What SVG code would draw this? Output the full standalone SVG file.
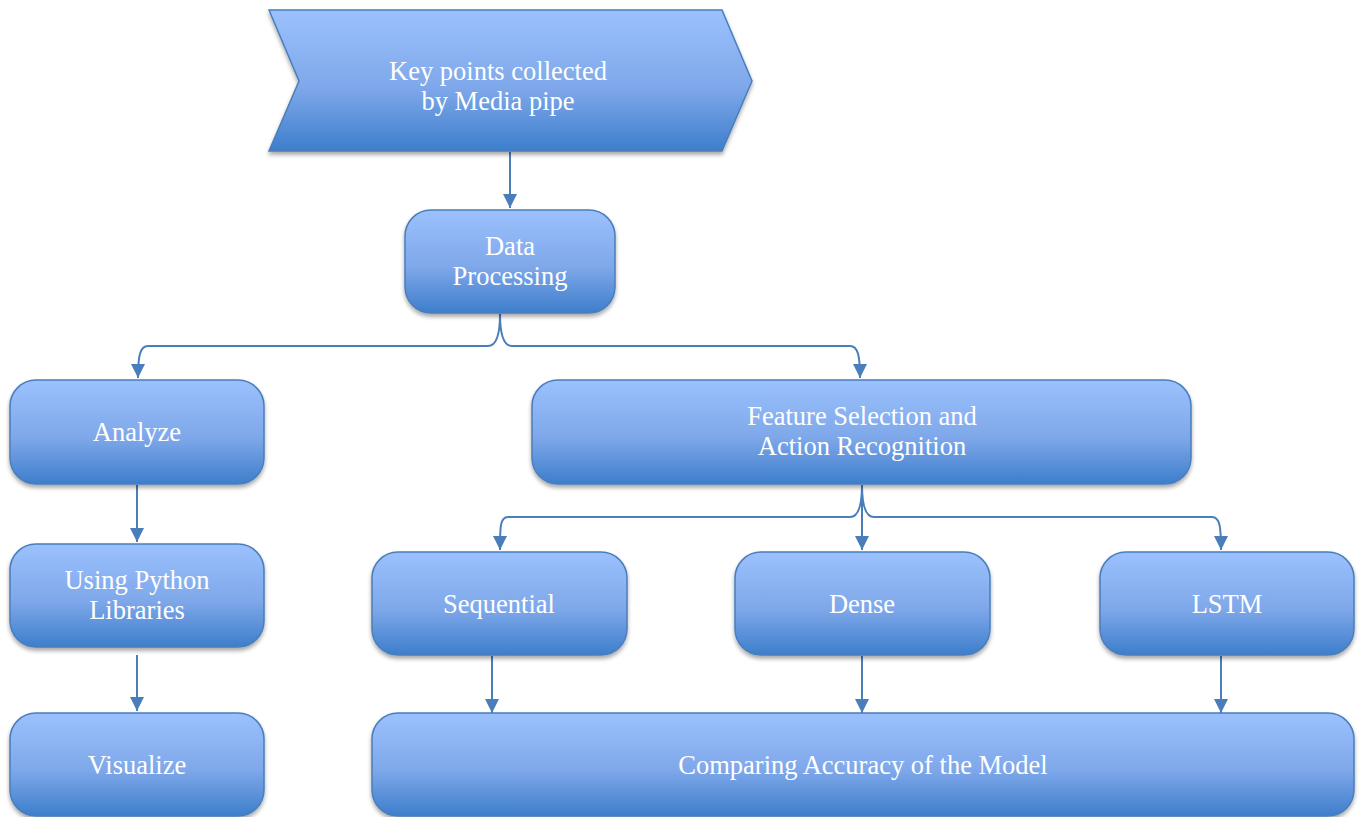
<svg xmlns="http://www.w3.org/2000/svg" width="1359" height="817" viewBox="0 0 1359 817">
<defs>
<linearGradient id="g" x1="0" y1="0" x2="0" y2="1">
<stop offset="0" stop-color="#9BC1FD"/>
<stop offset="0.55" stop-color="#7FA8EA"/>
<stop offset="1" stop-color="#3D7ECB"/>
</linearGradient>
<filter id="sh" x="-10%" y="-10%" width="120%" height="130%">
<feGaussianBlur in="SourceAlpha" stdDeviation="2"/>
<feOffset dx="0" dy="3" result="b"/>
<feComponentTransfer><feFuncA type="linear" slope="0.35"/></feComponentTransfer>
<feMerge><feMergeNode/><feMergeNode in="SourceGraphic"/></feMerge>
</filter>
<marker id="arr" markerWidth="14" markerHeight="16" refX="14" refY="7" orient="auto" markerUnits="userSpaceOnUse">
<path d="M0,0 L14,7 L0,14 Z" fill="#4A7EBB"/>
</marker>
</defs>
<style>
.n{fill:url(#g);stroke:#4A7EBB;stroke-width:1.5;filter:url(#sh)}
text{font-family:'Liberation Serif','Times New Roman',serif;font-size:26.5px;fill:#FFFFFF;text-anchor:middle}
.c{fill:none;stroke:#4A7EBB;stroke-width:2}
</style>
<g id="connectors">
<path class="c" d="M510,152 L510,208" marker-end="url(#arr)"/>
<path class="c" d="M500,314 C500,330 498,346 488,346 L148,346 C140,346 138,356 138,378" marker-end="url(#arr)"/>
<path class="c" d="M500,314 C500,330 502,346 512,346 L850,346 C858,346 860,356 860,378" marker-end="url(#arr)"/>
<path class="c" d="M137,485 L137,542" marker-end="url(#arr)"/>
<path class="c" d="M137,655 L137,711" marker-end="url(#arr)"/>
<path class="c" d="M862,485 C862,500 860,517 850,517 L508,517 C500,517 500,527 500,550" marker-end="url(#arr)"/>
<path class="c" d="M862,485 L862,550" marker-end="url(#arr)"/>
<path class="c" d="M862,485 C862,500 864,517 874,517 L1212,517 C1220,517 1221,527 1221,550" marker-end="url(#arr)"/>
<path class="c" d="M492,656 L492,713" marker-end="url(#arr)"/>
<path class="c" d="M862,656 L862,713" marker-end="url(#arr)"/>
<path class="c" d="M1221,656 L1221,713" marker-end="url(#arr)"/>
</g>
<g id="keypoints">
<polygon class="n" points="269,10 722,10 752,81 722,151 269,151 299,81"/>
<text x="498" y="80">Key points collected</text>
<text x="498" y="110">by Media pipe</text>
</g>
<g id="dataprocessing">
<rect class="n" x="405" y="210" width="210" height="103" rx="26"/>
<text x="510" y="255">Data</text>
<text x="510" y="285">Processing</text>
</g>
<g id="analyze">
<rect class="n" x="10" y="380" width="254" height="104" rx="26"/>
<text x="137" y="441">Analyze</text>
</g>
<g id="python">
<rect class="n" x="10" y="544" width="254" height="103" rx="26"/>
<text x="137" y="589">Using Python</text>
<text x="137" y="619">Libraries</text>
</g>
<g id="visualize">
<rect class="n" x="10" y="713" width="254" height="103" rx="26"/>
<text x="137" y="774">Visualize</text>
</g>
<g id="feature">
<rect class="n" x="532" y="380" width="659" height="104" rx="26"/>
<text x="862" y="425">Feature Selection and</text>
<text x="862" y="455">Action Recognition</text>
</g>
<g id="sequential">
<rect class="n" x="372" y="552" width="255" height="103" rx="26"/>
<text x="499" y="613">Sequential</text>
</g>
<g id="dense">
<rect class="n" x="735" y="552" width="255" height="103" rx="26"/>
<text x="862" y="613">Dense</text>
</g>
<g id="lstm">
<rect class="n" x="1100" y="552" width="254" height="103" rx="26"/>
<text x="1227" y="613">LSTM</text>
</g>
<g id="comparing">
<rect class="n" x="372" y="713" width="982" height="103" rx="26"/>
<text x="863" y="774">Comparing Accuracy of the Model</text>
</g>
</svg>
